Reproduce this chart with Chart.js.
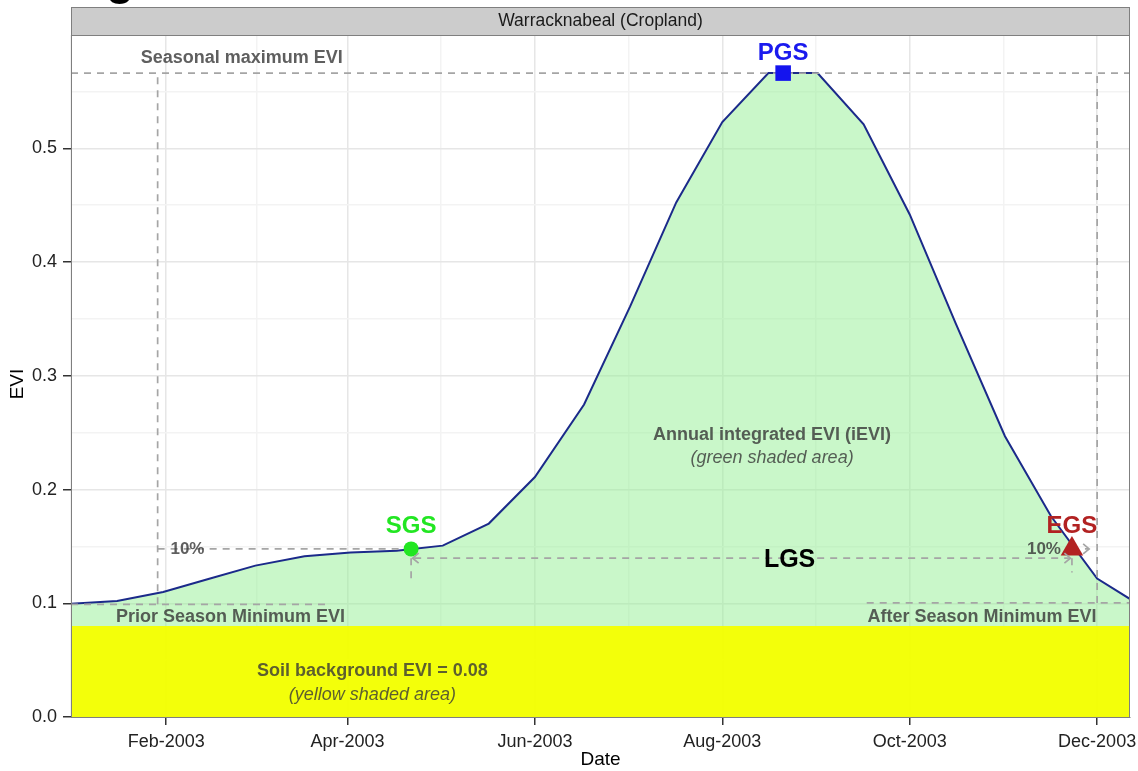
<!DOCTYPE html>
<html>
<head>
<meta charset="utf-8">
<script src="https://cdn.jsdelivr.net/npm/chart.js@4.4.1/dist/chart.umd.min.js"></script>
<style>
  html, body { margin: 0; padding: 0; background: #fff; }
</style>
</head>
<body>
<canvas id="evi" width="1138" height="771"></canvas>
<script>
// semi-monthly EVI composites, x = day of year 2003
const days = [1, 16, 31, 46, 61, 77, 92, 107, 122, 137, 152, 168, 183, 198, 213, 228, 244, 259, 274, 289, 305, 320, 335, 350];
const evi = [0.0995, 0.1021, 0.1100, 0.1215, 0.1331, 0.1413, 0.1446, 0.1461, 0.1507, 0.1701, 0.2110, 0.2748,
             0.3610, 0.4525, 0.5231, 0.5662, 0.5662, 0.5211, 0.4419, 0.3460, 0.2469, 0.1765, 0.1217, 0.0965];

const soilEVI = 0.08;
const maxEVI = 0.5662;
const priorMin = { day: 29.2, evi: 0.0991 };
const afterMin = { day: 335, evi: 0.1003 };
const sgs = { day: 111.7, evi: 0.1478 };
const pgs = { day: 232.8, evi: 0.5662 };
const egs = { day: 326.8, evi: 0.1478 };
const lgsEVI = 0.1397;

const tickDays = [32, 91, 152, 213, 274, 335];
const tickLabels = ['Feb-2003', 'Apr-2003', 'Jun-2003', 'Aug-2003', 'Oct-2003', 'Dec-2003'];
const minorDays = [1, 61.5, 121.5, 182.5, 243.5, 304.5];
const yTicks = [0, 0.1, 0.2, 0.3, 0.4, 0.5];
const yMinor = [0.05, 0.15, 0.25, 0.35, 0.45, 0.55];

const xMin = 1, xMax = 345.7, yMax = 0.5997;

const FONT = "'Liberation Sans', Arial, Helvetica, sans-serif";
const noteGrey = 'rgba(55,55,55,0.8)';

// text annotations, placed in data units
const notes = [
  { text: 'Seasonal maximum EVI', day: 56.6, evi: 0.5748, font: 'bold 18px', color: noteGrey },
  { text: 'PGS', day: pgs.day, evi: 0.5777, font: 'bold 24px', color: '#1a1aee' },
  { text: 'SGS', day: sgs.day, evi: 0.1619, font: 'bold 24px', color: '#22e622' },
  { text: 'EGS', day: egs.day, evi: 0.1619, font: 'bold 24px', color: '#b22222' },
  { text: 'LGS', day: 234.9, evi: 0.1320, font: 'bold 25px', color: '#000' },
  { text: '10%', day: 38.9, evi: 0.1437, font: 'bold 17px', color: noteGrey },
  { text: '10%', day: 317.7, evi: 0.1437, font: 'bold 17px', color: noteGrey },
  { text: 'Annual integrated EVI (iEVI)', day: 229.2, evi: 0.2434, font: 'bold 18px', color: noteGrey },
  { text: '(green shaded area)', day: 229.2, evi: 0.2235, font: 'italic 18px', color: noteGrey },
  { text: 'Prior Season Minimum EVI', day: 52.9, evi: 0.0834, font: 'bold 18px', color: noteGrey },
  { text: 'After Season Minimum EVI', day: 297.5, evi: 0.0834, font: 'bold 18px', color: noteGrey },
  { text: 'Soil background EVI = 0.08', day: 99.1, evi: 0.0363, font: 'bold 18px', color: noteGrey },
  { text: '(yellow shaded area)', day: 99.1, evi: 0.0152, font: 'italic 18px', color: noteGrey }
];

function seg(x1, y1, x2, y2) {
  return {
    type: 'line',
    data: [{ x: x1, y: y1 }, { x: x2, y: y2 }],
    borderColor: '#a5a5a5',
    borderWidth: 1.7,
    borderDash: [7, 6],
    pointRadius: 0,
    fill: false,
    order: 5
  };
}

function marker(p, style, radius, color) {
  return {
    type: 'line',
    data: [{ x: p.day, y: p.evi }],
    showLine: false,
    pointStyle: style,
    pointRadius: radius,
    pointBackgroundColor: color,
    pointBorderColor: color,
    pointBorderWidth: 0,
    order: 1
  };
}

const datasets = [
  {
    type: 'line',
    data: [{ x: xMin, y: soilEVI }, { x: xMax, y: soilEVI }],
    borderWidth: 0,
    pointRadius: 0,
    fill: 'origin',
    backgroundColor: 'rgba(242,255,0,0.96)',
    order: 10
  },
  {
    type: 'line',
    data: days.map((d, i) => ({ x: d, y: evi[i] })),
    borderColor: '#1b2a8a',
    borderWidth: 2,
    pointRadius: 0,
    tension: 0,
    fill: { value: soilEVI },
    backgroundColor: 'rgba(148,240,148,0.5)',
    order: 8
  },
  seg(xMin, maxEVI, xMax, maxEVI),
  seg(priorMin.day, priorMin.evi, priorMin.day, maxEVI),
  seg(afterMin.day, afterMin.evi, afterMin.day, maxEVI),
  seg(xMin, priorMin.evi, 84, priorMin.evi),
  seg(260, afterMin.evi, xMax, afterMin.evi),
  seg(priorMin.day, sgs.evi, sgs.day, sgs.evi),
  seg(egs.day, egs.evi, 332.4, egs.evi),
  seg(sgs.day + 1, lgsEVI, egs.day - 1, lgsEVI),
  seg(sgs.day, lgsEVI, sgs.day, 0.1208),
  seg(egs.day, lgsEVI, egs.day, 0.127),
  marker(sgs, 'circle', 7.5, '#22e622'),
  marker(pgs, 'rect', 11, '#1414ee'),
  marker(egs, 'triangle', 13, '#b22222')
];

const decor = {
  id: 'decor',
  afterDraw(chart) {
    const ctx = chart.ctx;
    const a = chart.chartArea;
    const xs = chart.scales.x, ys = chart.scales.y;
    ctx.save();

    // panel border
    ctx.strokeStyle = '#7f7f7f';
    ctx.lineWidth = 1;
    ctx.strokeRect(a.left + 0.5, a.top + 0.5, a.right - a.left - 1, a.bottom - a.top);

    // facet strip
    ctx.fillStyle = '#cccccc';
    ctx.fillRect(a.left, 7, a.right - a.left, a.top - 7);
    ctx.strokeRect(a.left + 0.5, 7.5, a.right - a.left - 1, a.top - 7);
    ctx.fillStyle = '#1a1a1a';
    ctx.font = '17.5px ' + FONT;
    ctx.textAlign = 'center';
    ctx.textBaseline = 'middle';
    ctx.fillText('Warracknabeal (Cropland)', (a.left + a.right) / 2, 21.5);

    // cut-off panel letter from the figure above
    ctx.fillStyle = '#000';
    ctx.font = 'bold 46px ' + FONT;
    ctx.textBaseline = 'alphabetic';
    ctx.fillText('g', 120, -6);

    // arrow heads
    ctx.strokeStyle = '#a5a5a5';
    ctx.lineWidth = 1.7;
    const head = (day, val, dir) => {
      const x = xs.getPixelForValue(day), y = ys.getPixelForValue(val);
      ctx.beginPath();
      ctx.moveTo(x - dir * 6, y - 5);
      ctx.lineTo(x, y);
      ctx.lineTo(x - dir * 6, y + 5);
      ctx.stroke();
    };
    head(sgs.day + 0.5, lgsEVI, -1);
    head(egs.day - 0.5, lgsEVI, 1);
    head(332.4, egs.evi, 1);

    // annotations
    ctx.textAlign = 'center';
    ctx.textBaseline = 'alphabetic';
    notes.forEach(n => {
      ctx.font = n.font + ' ' + FONT;
      ctx.fillStyle = n.color;
      ctx.fillText(n.text, xs.getPixelForValue(n.day), ys.getPixelForValue(n.evi));
    });

    // y axis title
    ctx.fillStyle = '#000';
    ctx.font = '19px ' + FONT;
    ctx.translate(18, 384);
    ctx.rotate(-Math.PI / 2);
    ctx.textBaseline = 'middle';
    ctx.fillText('EVI', 0, 0);
    ctx.restore();
  }
};

Chart.defaults.font.family = FONT;

new Chart(document.getElementById('evi'), {
  type: 'line',
  data: { datasets },
  plugins: [decor],
  options: {
    responsive: false,
    animation: false,
    devicePixelRatio: 1,
    layout: { autoPadding: false, padding: { top: 35, right: 8, left: 0, bottom: 0 } },
    plugins: { legend: { display: false }, tooltip: { enabled: false } },
    scales: {
      x: {
        type: 'linear',
        min: xMin,
        max: xMax,
        afterBuildTicks: s => {
          s.ticks = tickDays.map((v, i) => ({ value: v, label: tickLabels[i] }))
            .concat(minorDays.map(v => ({ value: v, minor: true })))
            .sort((p, q) => p.value - q.value);
        },
        afterFit: s => { s.height = 54; s.paddingLeft = 0; s.paddingRight = 0; },
        ticks: {
          autoSkip: false,
          maxRotation: 0,
          padding: 6,
          color: '#222',
          font: { size: 18 },
          callback: (v, i, t) => t[i].minor ? '' : t[i].label
        },
        grid: {
          color: c => c.tick && c.tick.minor ? '#f3f3f3' : '#e6e6e6',
          tickColor: c => c.tick && c.tick.minor ? 'rgba(0,0,0,0)' : '#333',
          lineWidth: 1.5,
          tickLength: 8
        },
        border: { display: true, color: '#7f7f7f', width: 1 },
        title: { display: true, text: 'Date', color: '#000', font: { size: 19 }, padding: 0 }
      },
      y: {
        type: 'linear',
        min: 0,
        max: yMax,
        afterBuildTicks: s => {
          s.ticks = yTicks.map(v => ({ value: v }))
            .concat(yMinor.map(v => ({ value: v, minor: true })))
            .sort((p, q) => p.value - q.value);
        },
        afterFit: s => { s.width = 71; s.paddingTop = 0; s.paddingBottom = 0; },
        ticks: {
          autoSkip: false,
          padding: 6,
          color: '#222',
          font: { size: 18 },
          callback: (v, i, t) => t[i].minor ? '' : v.toFixed(1)
        },
        grid: {
          color: c => c.tick && c.tick.minor ? '#f3f3f3' : '#e6e6e6',
          tickColor: c => c.tick && c.tick.minor ? 'rgba(0,0,0,0)' : '#333',
          lineWidth: 1.5,
          tickLength: 8
        },
        border: { display: true, color: '#7f7f7f', width: 1 }
      }
    }
  }
});
</script>
</body>
</html>
